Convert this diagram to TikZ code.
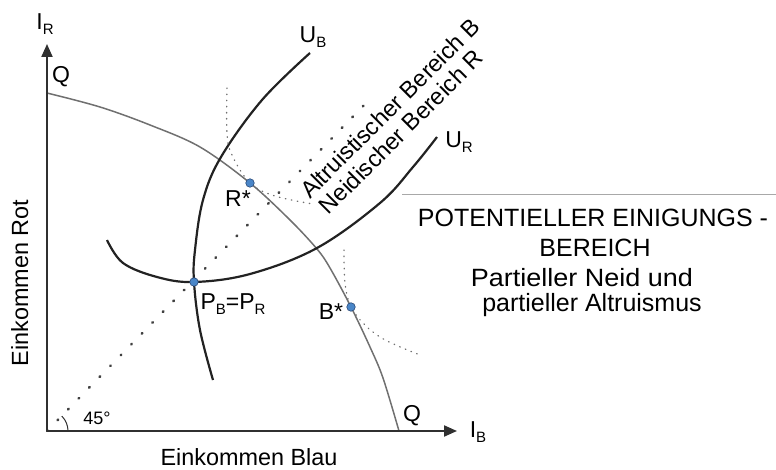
\documentclass[tikz,border=0pt]{standalone}
\usepackage{fontspec}
\setmainfont{Liberation Sans}
\usetikzlibrary{arrows.meta}
\definecolor{axisc}{HTML}{303030}
\definecolor{qc}{HTML}{707070}
\definecolor{uc}{HTML}{222222}
\definecolor{dotc}{HTML}{404040}
\definecolor{fdotc}{HTML}{707070}
\definecolor{ptfill}{HTML}{4A86C8}
\definecolor{ptdraw}{HTML}{2A4A78}
\definecolor{sepc}{HTML}{A8A8A8}
\newcommand\lowsub[1]{\raisebox{-0.35ex}{\fontsize{15}{15}\selectfont #1}}
\begin{document}
\begin{tikzpicture}[x=1pt,y=-1pt,
  axis/.style={draw=axisc,line width=2pt,-{Triangle[length=13pt,width=11pt]}},
  qcurve/.style={draw=qc,line width=1.5pt},
  ucurve/.style={draw=uc,line width=2.2pt},
  diag/.style={draw=dotc,line width=2.6pt,line cap=round,dash pattern=on 0.8pt off 14.3pt},
  fdots/.style={draw=fdotc,line width=1.3pt,line cap=round,dash pattern=on 0.6pt off 5.5pt},
  pt/.style={circle,fill=ptfill,draw=ptdraw,line width=0.6pt,inner sep=0pt,minimum size=8.5pt},
  lbl/.style={font=\fontsize{23}{23}\selectfont,inner sep=0pt,text=black},
  big/.style={font=\fontsize{23.4}{23.4}\selectfont,inner sep=0pt,anchor=base,text=black},
  blk/.style={font=\fontsize{25}{25}\selectfont,inner sep=0pt,anchor=base,text=black}]
\useasboundingbox (0,0) rectangle (776,470);
% coordinates
\coordinate (O) at (47,431);
\coordinate (ytip) at (47,44);
\coordinate (xtip) at (457,431);
\coordinate (Q1) at (47,93);
\coordinate (Q2) at (399,431);
\coordinate (P) at (194,282);
\coordinate (Rstar) at (250,183);
\coordinate (Bstar) at (351,307);
\coordinate (Dend) at (372,97);
\coordinate (UB1) at (310,53);
\coordinate (UB2) at (213,380);
\coordinate (UR1) at (107,240);
\coordinate (UR2) at (437,137);
\coordinate (S1) at (402,195);
\coordinate (S2) at (776,195);
% separator line
\draw[sepc,line width=1pt] (S1) -- (S2);
% budget curve Q
\draw[qcurve] plot[smooth,tension=0.55] coordinates {(Q1) (100,107) (150,125) (200,147) (Rstar) (290,220) (317,249) (330,268) (Bstar) (370,347) (383,378) (Q2)};
% indifference curves
\draw[ucurve] plot[smooth,tension=0.6] coordinates {(UB1) (262,100) (221,157) (203,200) (195,250) (P) (200,330) (UB2)};
\draw[ucurve] plot[smooth,tension=0.6] coordinates {(UR1) (123,263) (157,277) (P) (250,274) (317,248) (380,203) (413,167) (UR2)};
% fine dotted curves
\draw[fdots] plot[smooth,tension=0.6] coordinates {(227,88) (227,133) (232,155) (Rstar) (275,196) (313,204)};
\draw[fdots] plot[smooth,tension=0.6] coordinates {(344,250) (345,283) (Bstar) (365,325) (380,337) (398,346) (420,355)};
% 45 degree line
\draw[diag] (O) -- (Dend);
\draw[axisc,line width=1pt] (O) ++(21,0) arc[start angle=0,end angle=-45,radius=21];
% axes
\draw[axis] (O) -- (ytip);
\draw[axis] (O) -- (xtip);
% points
\node[pt] (nP) at (P) {};
\node[pt] (nR) at (Rstar) {};
\node[pt] (nB) at (Bstar) {};
% labels
\node[lbl] (IR) at (45,24) {I\lowsub{R}};
\node[lbl] (IB) at (478,432) {I\lowsub{B}};
\node[lbl] (Qt) at (61,77) {Q};
\node[lbl] (Qb) at (412,416) {Q};
\node[lbl,font=\fontsize{18}{18}\selectfont] (deg) at (97,418) {45°};
\node[lbl] (UBl) at (313,37) {U\lowsub{B}};
\node[lbl] (URl) at (459,142) {U\lowsub{R}};
\node[lbl] (Rl) at (238,199) {R*};
\node[lbl] (Bl) at (331,312) {B*};
\node[lbl] (Pl) at (233,304) {P\lowsub{B}=P\lowsub{R}};
\node[big] (xl) at (249,465) {Einkommen Blau};
\node[big,rotate=90] (yl) at (28,283) {Einkommen Rot};
\node[lbl,font=\fontsize{23.5}{23.5}\selectfont,rotate=45] (alt) at (390,108) {Altruistischer Bereich B};
\node[lbl,font=\fontsize{23.5}{23.5}\selectfont,rotate=45] (neid) at (401,132) {Neidischer Bereich R};
\node[blk] (t1) at (593,227) {POTENTIELLER EINIGUNGS -};
\node[blk] (t2) at (595,257) {BEREICH};
\node[blk] (t3) at (582,287) {\scalebox{1.08}[1]{Partieller Neid und}};
\node[blk] (t4) at (592,312) {partieller Altruismus};
\end{tikzpicture}
\end{document}
